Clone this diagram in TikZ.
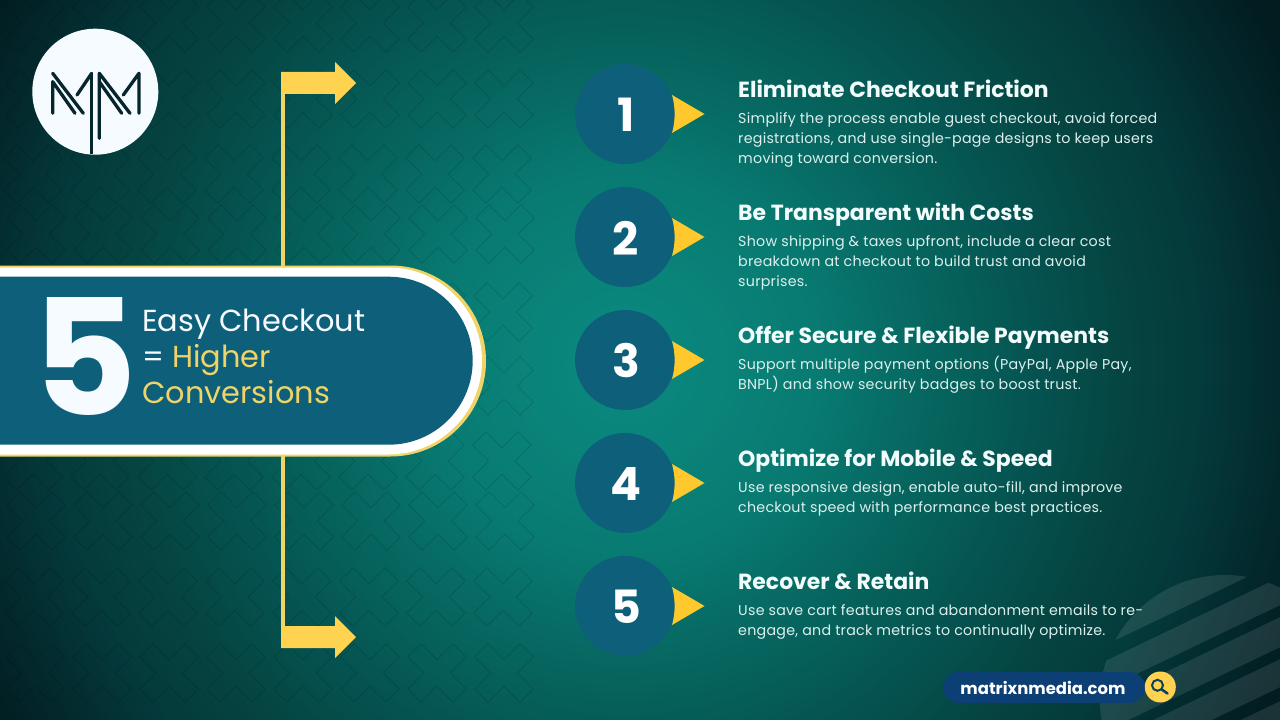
\documentclass[tikz,border=0pt]{standalone}
\usepackage{fontspec}
\setmainfont{Poppins}
\newfontfamily\bodyfont{Poppins}[LetterSpace=1.8]
\usetikzlibrary{calc}
\definecolor{blueteal}{HTML}{0E5F7A}
\definecolor{goldA}{HTML}{FFD24F}
\definecolor{goldB}{HTML}{F0D468}
\definecolor{goldC}{HTML}{FFC92E}
\definecolor{offwhite}{HTML}{F6FBFF}
\definecolor{inkdark}{HTML}{06262D}
\definecolor{pillblue}{HTML}{0C3F73}
\definecolor{softtext}{HTML}{DDF0EE}
\definecolor{headtext}{HTML}{F2FCFC}
\definecolor{ringa}{HTML}{0B8A80}
\definecolor{ringb}{HTML}{0A8379}
\definecolor{ringc}{HTML}{087A71}
\definecolor{ringd}{HTML}{076D66}
\definecolor{ringe}{HTML}{06605A}
\definecolor{ringf}{HTML}{055250}
\definecolor{ringg}{HTML}{054541}
\definecolor{ringh}{HTML}{043A3B}
\definecolor{ringi}{HTML}{03292D}
\definecolor{ringj}{HTML}{021C20}
\tikzset{
 xmark/.style={draw=black,draw opacity=.12,line width=.8bp,line join=miter},
 circ/.style={circle,fill=blueteal,minimum size=100bp,inner sep=0pt},
 digit/.style={inner sep=0pt,text=white,font=\fontsize{46}{46}\selectfont\bfseries},
 headline/.style={anchor=base west,inner sep=0pt,text=headtext,font=\fontsize{22}{26}\selectfont\bfseries},
 bodytext/.style={anchor=north west,inner sep=0pt,text=softtext,align=left,font=\bodyfont\fontsize{14.3}{20}\selectfont},
 logoline/.style={draw=inkdark,line width=3.3bp,line cap=round,line join=round},
 decostripe/.style={fill=white,fill opacity=.1},
}
\newcommand{\xshape}[2]{%
 \draw[xmark,shift={(#1,#2)}] (0,-13.3)--(16,-29.3)--(29.3,-16)--(13.3,0)--(29.3,16)--(16,29.3)--(0,13.3)--(-16,29.3)--(-29.3,16)--(-13.3,0)--(-29.3,-16)--(-16,-29.3)--cycle;}
\newcommand{\decoband}[2]{%
 \fill[decostripe] (1080,#1+43.2) -- (1300,#1-62.4) -- (1300,#2-62.4) -- (1080,#2+43.2) -- cycle;}
\newcommand{\bodystrut}{\rule{0pt}{14bp}}
\begin{document}
\begin{tikzpicture}[x=1bp,y=-1bp]
\useasboundingbox (0,0) rectangle (1280,720);
\begin{scope}
\clip (0,0) rectangle (1280,720);
\fill[ringj] (0,0) rectangle (1280,720);
\foreach \ca/\cb/\ra/\rb in {ringj/ringi/730/660,ringi/ringh/660/580,ringh/ringg/580/500,ringg/ringf/500/420,ringf/ringe/420/340,ringe/ringd/340/265,ringd/ringc/265/200,ringc/ringb/200/100,ringb/ringa/100/0}{
 \foreach \i in {0,5,...,95}{
  \pgfmathsetmacro{\rr}{\ra+(\rb-\ra)*\i/100}
  \pgfmathtruncatemacro{\pp}{100-\i}
  \fill[\ca!\pp!\cb] (625,365) circle (\rr);
 }
}
\foreach \yy/\dx in {23/0,99/0,174/-2,234/1,312/-1,386/0,461/-2,521/1,597/-1,673/0}{
 \foreach \k in {0,...,7}{ \xshape{35+\dx+67*\k}{\yy} }
}
% deco
\begin{scope}
\clip (1225,700) circle (125);
\decoband{500}{614}
\decoband{630}{658}
\decoband{670}{700}
\decoband{712}{740}
\decoband{754}{790}
\end{scope}
\end{scope}
% connectors
\fill[goldA] (281,72) -- (335,72) -- (335,62) -- (356,83) -- (335,104) -- (335,94) -- (281,94) -- cycle;
\fill[goldA] (281,626) -- (335,626) -- (335,616) -- (356,637) -- (335,658) -- (335,648) -- (281,648) -- cycle;
\fill[goldB] (281,94) rectangle (285,280);
\fill[goldB] (281,440) rectangle (285,626);
% banner
\fill[goldB] (-5,265.5) -- (390.5,265.5) arc (-90:90:95.5) -- (-5,456.5) -- cycle;
\fill[white] (-5,267.5) -- (388.5,267.5) arc (-90:90:93.5) -- (-5,454.5) -- cycle;
\fill[blueteal] (-5,276.7) -- (388.7,276.7) arc (-90:90:84) -- (-5,444.7) -- cycle;
\node[anchor=base west,inner sep=0pt,text=offwhite,font=\fontsize{162}{162}\selectfont\bfseries] (big) at (32.5,415) {5};
\node[anchor=north west,inner sep=0pt,align=left,text=offwhite,font=\fontsize{30.5}{36}\selectfont] (title) at (142,309) {Easy Checkout\\= \textcolor{goldB}{Higher}\\\textcolor{goldB}{Conversions}};
% logo
\node[circle,fill=offwhite,minimum size=126bp,inner sep=0pt] (logo) at (95.3,91.7) {};
\draw[logoline] (52.7,113.3)--(52.7,81.7)--(75,113.3);
\draw[logoline] (52.7,73.3)--(83.3,113.3);
\draw[logoline] (91.7,73.3)--(77,95);
\draw[logoline,line cap=butt] (91.7,73.3)--(91.7,154.5);
\draw[logoline] (99.3,138.3)--(99.3,73.3)--(130,113.3);
\draw[logoline] (99.3,81.7)--(121.7,113.3);
\draw[logoline] (139,113.3)--(139,73.3)--(123.3,95);
% steps
\foreach \n/\yc/\t/\b in {
 1/114/{Eliminate Checkout Friction}/{Simplify the process enable guest checkout, avoid forced\\registrations, and use single-page designs to keep users\\moving toward conversion.},
 2/237/{Be Transparent with Costs}/{Show shipping \& taxes upfront, include a clear cost\\breakdown at checkout to build trust and avoid\\surprises.},
 3/360/{Offer Secure \& Flexible Payments}/{Support multiple payment options (PayPal, Apple Pay,\\BNPL) and show security badges to boost trust.},
 4/483/{Optimize for Mobile \& Speed}/{Use responsive design, enable auto-fill, and improve\\checkout speed with performance best practices.},
 5/606/{Recover \& Retain}/{Use save cart features and abandonment emails to re-\\engage, and track metrics to continually optimize.}}{
 \node[circ] (c\n) at (625,\yc) {};
 \node[digit] (d\n) at (626,\yc+1) {\n};
 \fill[goldC] (672,\yc-19) -- (704.5,\yc) -- (672,\yc+19) .. controls (675.5,\yc+7) and (675.5,\yc-7) .. cycle;
 \node[headline] (h\n) at (738,\yc-16.5) {\t};
 \node[bodytext] (b\n) at (738,\yc-4.4) {\bodystrut\b};
}
% url
\node[rounded corners=15.5bp,fill=pillblue,minimum width=202bp,minimum height=31bp,inner sep=0pt] (pill) at (1044,687.5) {};
\node[text=white,inner sep=0pt,font=\fontsize{16.5}{20}\selectfont\bfseries] (url) at (1043,688) {matrixnmedia.com};
\node[circle,fill=goldA,minimum size=31bp,inner sep=0pt] (search) at (1160.3,687) {};
\draw[draw=blueteal!70!black,line width=2bp] (1157.5,685.3) circle (5.5);
\draw[draw=blueteal!70!black,line width=2.6bp,line cap=round] (1161.8,689.5)--(1167.5,693.5);
\end{tikzpicture}
\end{document}
